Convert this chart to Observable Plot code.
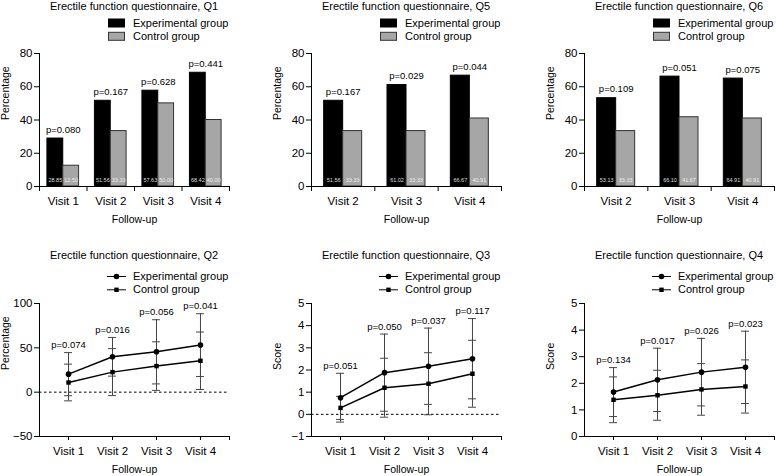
<!DOCTYPE html>
<html><head><meta charset="utf-8">
<script src="https://cdn.jsdelivr.net/npm/d3@7"></script>
<script src="https://cdn.jsdelivr.net/npm/@observablehq/plot@0.6"></script>
<style>
body{margin:0;background:#fff;}
#root{position:relative;width:776px;height:476px;overflow:hidden;font-family:"Liberation Sans",Arial,Helvetica,sans-serif;color:#000;}
.title{position:absolute;font-size:11px;line-height:11px;transform:translateX(-50%);white-space:nowrap;}
.abs{position:absolute;}
</style></head><body><div id="root"></div>
<script>
// ---------- data ----------
const groups = ["Experimental group", "Control group"];
const visits4 = ["Visit 1", "Visit 2", "Visit 3", "Visit 4"];
const visits3 = ["Visit 2", "Visit 3", "Visit 4"];

// Bar panels (percentage)
const q1Exp = [28.85, 51.56, 57.63, 68.42];
const q1Ctrl = [12.50, 33.33, 50.00, 40.00];
const q1P = ["0.080", "0.167", "0.628", "0.441"];

const q5Exp = [51.56, 61.02, 66.67];
const q5Ctrl = [33.33, 33.33, 40.91];
const q5P = ["0.167", "0.029", "0.044"];

const q6Exp = [53.13, 66.10, 64.91];
const q6Ctrl = [33.33, 41.67, 40.91];
const q6P = ["0.109", "0.051", "0.075"];

// Line panels (mean, SD)
const q2ExpMean = [20.3, 39.9, 45.5, 53.1];
const q2ExpSd = [24.3, 21.8, 36.2, 35.4];
const q2CtrlMean = [10.9, 22.6, 29.4, 35.4];
const q2CtrlSd = [20.7, 26.5, 27.4, 32.4];
const q2P = ["0.074", "0.016", "0.056", "0.041"];

const q3ExpMean = [0.75, 1.88, 2.17, 2.51];
const q3ExpSd = [1.10, 1.74, 1.72, 1.81];
const q3CtrlMean = [0.29, 1.20, 1.38, 1.83];
const q3CtrlSd = [0.52, 1.33, 1.40, 1.51];
const q3P = ["0.051", "0.050", "0.037", "0.117"];

const q4ExpMean = [1.67, 2.13, 2.42, 2.60];
const q4ExpSd = [0.92, 1.19, 1.27, 1.36];
const q4CtrlMean = [1.38, 1.55, 1.77, 1.88];
const q4CtrlSd = [0.86, 0.94, 0.97, 1.00];
const q4P = ["0.134", "0.017", "0.026", "0.023"];

// ---------- rendering ----------
const FONT = '"Liberation Sans", Arial, Helvetica, sans-serif';
const root = document.getElementById("root");
const ML = 45, MR = 6, MT = 10, MB = 45, FW = 190, FH = 133;
const GRAY = "#a6a6a6";
const TICK_FS = 11.5, P_FS = 9.5, LAB_FS = 10.5;
const fmtNum = d => d < 0 ? "\u2212" + Math.abs(d) : String(d);

function place(el, left, top) {
  el.classList.add("abs");
  el.style.left = left + "px";
  el.style.top = top + "px";
  root.appendChild(el);
}
function addTitle(text, cx, cy) {
  const d = document.createElement("div");
  d.className = "title";
  d.textContent = text;
  d.style.left = cx + "px";
  d.style.top = (cy - 5.5) + "px";
  root.appendChild(d);
}
function legend(kind, left, top) {
  const svg = d3.create("svg").attr("width", 160).attr("height", 30)
    .style("font-family", FONT).style("font-size", "11px").style("overflow", "visible");
  groups.forEach((g, k) => {
    const y = 5 + k * 13.3;
    if (kind === "bar") {
      svg.append("rect").attr("x", 0.5).attr("y", y - 4).attr("width", 16).attr("height", 8)
        .attr("fill", k === 0 ? "#000" : GRAY).attr("stroke", k === 0 ? "#000" : "#333");
      svg.append("text").attr("x", 25).attr("y", y).attr("dy", "0.35em").text(g);
    } else {
      svg.append("line").attr("x1", 0).attr("x2", 19).attr("y1", y + 0.5).attr("y2", y + 0.5).attr("stroke", "#000");
      if (k === 0) svg.append("circle").attr("cx", 9.5).attr("cy", y + 0.5).attr("r", 2.8).attr("fill", "#000");
      else svg.append("rect").attr("x", 7.3).attr("y", y - 1.7).attr("width", 4.4).attr("height", 4.4).attr("fill", "#000");
      svg.append("text").attr("x", 26).attr("y", y).attr("dy", "0.35em").text(g);
    }
  });
  place(svg.node(), left, top);
}

function barPanel({title, visits, exp, ctrl, pv, fl, ft, frac}) {
  const n = visits.length;
  const expRows = exp.map((v, i) => ({i, v, x1: i + 0.5 - frac, x2: i + 0.5}));
  const ctrlRows = ctrl.map((v, i) => ({i, v, x1: i + 0.5, x2: i + 0.5 + frac}));
  const pRows = pv.map((p, i) => ({x: i + 0.5, y: Math.max(exp[i], ctrl[i]), t: "p=" + p}));
  const chart = Plot.plot({
    width: ML + FW + MR, height: MT + FH + MB,
    marginLeft: ML, marginRight: MR, marginTop: MT, marginBottom: MB,
    x: {domain: [0, n], label: null},
    y: {domain: [0, 80], label: null},
    style: {fontFamily: FONT, fontSize: "12px", overflow: "visible", background: "transparent"},
    marks: [
      Plot.axisY({ticks: [0, 20, 40, 60, 80], tickSize: 5, tickPadding: 2, fontSize: TICK_FS, tickFormat: fmtNum, label: null}),
      Plot.axisX({ticks: d3.range(n + 1), tickSize: 5, tickFormat: () => "", label: null}),
      Plot.axisX({ticks: visits.map((_, i) => i + 0.5), tickSize: 0, tickPadding: 10, fontSize: TICK_FS,
        tickFormat: v => visits[Math.round(v - 0.5)], label: null}),
      Plot.rectY(expRows, {x1: "x1", x2: "x2", y1: () => 0, y2: "v", fill: "#000", stroke: "#000"}),
      Plot.rectY(ctrlRows, {x1: "x1", x2: "x2", y1: () => 0, y2: "v", fill: GRAY, stroke: "#333"}),
      Plot.text(expRows, {x: d => (d.x1 + d.x2) / 2, y: () => 0, dy: -6, text: d => d.v.toFixed(2), fill: "#ddd", fontSize: 5.5}),
      Plot.text(ctrlRows, {x: d => (d.x1 + d.x2) / 2, y: () => 0, dy: -6, text: d => d.v.toFixed(2), fill: "#eee", fontSize: 5.5}),
      Plot.text(pRows, {x: "x", y: "y", dy: -9, text: "t", fontSize: P_FS}),
      Plot.ruleX([0]),
      Plot.ruleY([0]),
      Plot.text(["Follow-up"], {text: d => d, frameAnchor: "bottom", dy: 36.5, fontSize: LAB_FS}),
      Plot.text(["Percentage"], {text: d => d, frameAnchor: "left", rotate: -90, dx: -34, fontSize: LAB_FS})
    ]
  });
  place(chart, fl - ML, ft - MT);
  addTitle(title, fl + FW / 2, ft - 47);
  legend("bar", fl + 69, ft - 35);
}

function linePanel({title, ylabel, yDomain, yTicks, expM, expS, ctrlM, ctrlS, pv, fl, ft}) {
  const n = visits4.length;
  const pad = 0.66;
  const rows = (m, s) => m.map((v, i) => ({i, m: v, lo: v - s[i], hi: v + s[i]}));
  const E = rows(expM, expS), C = rows(ctrlM, ctrlS);
  const caps = [...E, ...C].flatMap(d => [{i: d.i, y: d.lo}, {i: d.i, y: d.hi}]);
  const cw = 0.09;
  const pRows = pv.map((p, i) => ({x: i, y: Math.max(E[i].hi, C[i].hi), t: "p=" + p}));
  const marks = [
    Plot.axisY({ticks: yTicks, tickSize: 5, tickPadding: 2, fontSize: TICK_FS, tickFormat: fmtNum, label: null}),
    Plot.axisX({ticks: d3.range(n), tickSize: 4, tickPadding: 6, fontSize: TICK_FS, tickFormat: v => visits4[v], label: null}),
    Plot.axisX({ticks: [n - 1 + pad], tickSize: 4, tickFormat: () => "", label: null}),
  ];
  if (yDomain[0] < 0) marks.push(Plot.ruleY([0], {strokeDasharray: "2.5,2.5"}));
  marks.push(
    Plot.ruleX([...E, ...C], {x: "i", y1: "lo", y2: "hi", stroke: "#444"}),
    Plot.ruleY(caps, {y: "y", x1: d => d.i - cw, x2: d => d.i + cw, stroke: "#444"}),
    Plot.line(E, {x: "i", y: "m", stroke: "#000"}),
    Plot.line(C, {x: "i", y: "m", stroke: "#000"}),
    Plot.dot(E, {x: "i", y: "m", symbol: "circle", r: 2.8, fill: "#000"}),
    Plot.dot(C, {x: "i", y: "m", symbol: "square", r: 2.5, fill: "#000"}),
    Plot.text(pRows, {x: "x", y: "y", dy: -7.5, text: "t", fontSize: P_FS}),
    Plot.ruleX([-pad]),
    Plot.ruleY([yDomain[0]]),
    Plot.text(["Follow-up"], {text: d => d, frameAnchor: "bottom", dy: 36, fontSize: LAB_FS}),
    Plot.text([ylabel], {text: d => d, frameAnchor: "left", rotate: -90, dx: -34, fontSize: LAB_FS})
  );
  const chart = Plot.plot({
    width: ML + FW + MR, height: MT + FH + MB,
    marginLeft: ML, marginRight: MR, marginTop: MT, marginBottom: MB,
    x: {domain: [-pad, n - 1 + pad], label: null},
    y: {domain: yDomain, label: null},
    style: {fontFamily: FONT, fontSize: "12px", overflow: "visible", background: "transparent"},
    marks
  });
  place(chart, fl - ML, ft - MT);
  addTitle(title, fl + FW / 2, ft - 48);
  legend("line", fl + 68, ft - 32);
}

barPanel({title: "Erectile function questionnaire, Q1", visits: visits4, exp: q1Exp, ctrl: q1Ctrl, pv: q1P, fl: 39, ft: 53, frac: 1 / 3});
barPanel({title: "Erectile function questionnaire, Q5", visits: visits3, exp: q5Exp, ctrl: q5Ctrl, pv: q5P, fl: 311, ft: 53, frac: 0.3});
barPanel({title: "Erectile function questionnaire, Q6", visits: visits3, exp: q6Exp, ctrl: q6Ctrl, pv: q6P, fl: 584, ft: 53, frac: 0.3});

linePanel({title: "Erectile function questionnaire, Q2", ylabel: "Percentage", yDomain: [-50, 100], yTicks: [-50, 0, 50, 100],
  expM: q2ExpMean, expS: q2ExpSd, ctrlM: q2CtrlMean, ctrlS: q2CtrlSd, pv: q2P, fl: 39, ft: 303});
linePanel({title: "Erectile function questionnaire, Q3", ylabel: "Score", yDomain: [-1, 5], yTicks: [-1, 0, 1, 2, 3, 4, 5],
  expM: q3ExpMean, expS: q3ExpSd, ctrlM: q3CtrlMean, ctrlS: q3CtrlSd, pv: q3P, fl: 311, ft: 303});
linePanel({title: "Erectile function questionnaire, Q4", ylabel: "Score", yDomain: [0, 5], yTicks: [0, 1, 2, 3, 4, 5],
  expM: q4ExpMean, expS: q4ExpSd, ctrlM: q4CtrlMean, ctrlS: q4CtrlSd, pv: q4P, fl: 584, ft: 303});
</script></body></html>
